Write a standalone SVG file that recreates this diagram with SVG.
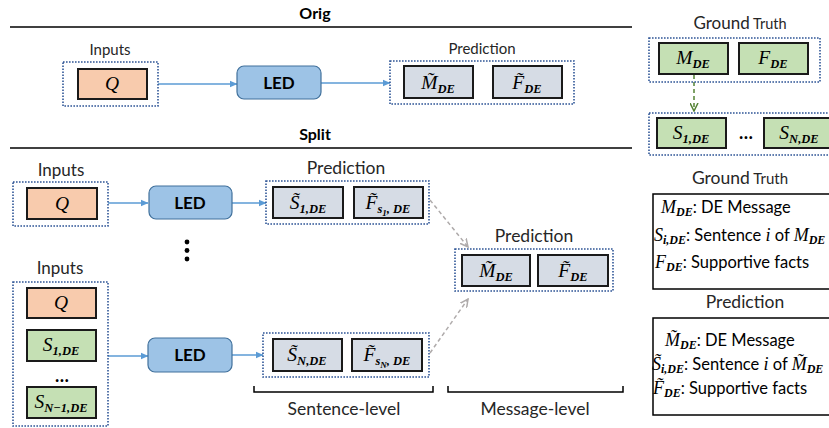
<svg xmlns="http://www.w3.org/2000/svg" width="829" height="428" viewBox="0 0 829 428">
  <style>
    .lbl { font-family: Lato, "Open Sans", "Liberation Sans", sans-serif; fill: #262626; text-anchor: middle; }
    .ttl { font-family: Lato, "Liberation Sans", sans-serif; font-weight: bold; font-size: 16px; fill: #000; text-anchor: middle; }
    .led-t { font-family: Lato, "Liberation Sans", sans-serif; font-weight: bold; font-size: 17px; fill: #000; text-anchor: middle; }
    .m { font-family: "Liberation Serif", "DejaVu Serif", serif; font-style: italic; font-size: 19.5px; fill: #000; }
    .mc { text-anchor: middle; }
    .s { font-size: 12.5px; font-weight: bold; }
    .ss { font-size: 9px; font-weight: bold; }
    .ell { font-family: Lato, "Liberation Sans", sans-serif; font-weight: bold; font-size: 18px; fill: #000; text-anchor: middle; }
    .grp { fill: none; stroke: #2F5597; stroke-width: 1.6; stroke-dasharray: 1.6 1.4; }
    .q { fill: #F8CBAD; stroke: #1a1a1a; stroke-width: 2; }
    .g { fill: #C5E0B4; stroke: #1a1a1a; stroke-width: 2; }
    .p { fill: #D6DCE5; stroke: #1a1a1a; stroke-width: 2; }
    .led { fill: #9DC3E6; stroke: #41719C; stroke-width: 1.2; }
    .rule { stroke: #000; stroke-width: 1.6; }
    .blue { stroke: #5B9BD5; stroke-width: 1.5; fill: none; marker-end: url(#ab); }
    .gray { stroke: #AFABAB; stroke-width: 1.5; fill: none; stroke-dasharray: 4 3; marker-end: url(#ag); }
    .green { stroke: #548235; stroke-width: 1.5; fill: none; stroke-dasharray: 4 3; marker-end: url(#agr); }
    .brk { stroke: #000; stroke-width: 1.5; fill: none; }
    .leg { fill: #fff; stroke: #000; stroke-width: 1.5; }
    .lt { font-family: Lato, "Open Sans", "Liberation Sans", sans-serif; font-size: 16.5px; fill: #000; }
    .lm { font-family: "Liberation Serif", "DejaVu Serif", serif; font-style: italic; font-size: 18px; }
    .ls { font-family: "Liberation Serif", "DejaVu Serif", serif; font-style: italic; font-weight: bold; font-size: 12px; }
  </style>
  <defs>
    <marker id="ab" markerWidth="8" markerHeight="8" refX="7" refY="4" orient="auto" markerUnits="userSpaceOnUse">
      <path d="M0,0.8 L7.5,4 L0,7.2 Z" fill="#5B9BD5"/>
    </marker>
    <marker id="ag" markerWidth="9" markerHeight="9" refX="8" refY="4.5" orient="auto" markerUnits="userSpaceOnUse">
      <path d="M0,0.5 L8,4.5 L0,8.5" fill="none" stroke="#AFABAB" stroke-width="1.5"/>
    </marker>
    <marker id="agr" markerWidth="9" markerHeight="9" refX="8" refY="4.5" orient="auto" markerUnits="userSpaceOnUse">
      <path d="M0,0.5 L8,4.5 L0,8.5" fill="none" stroke="#548235" stroke-width="1.5"/>
    </marker>
  </defs>

  <rect width="829" height="428" fill="#fff"/>

  <!-- section headings and rules -->
  <g id="headings">
    <text class="ttl" x="315" y="19">Orig</text>
    <line class="rule" x1="10" y1="27" x2="632" y2="27"/>
    <text class="ttl" x="315" y="140">Split</text>
    <line class="rule" x1="10" y1="148" x2="632" y2="148"/>
  </g>

  <!-- connectors -->
  <g id="connectors">
    <line class="blue" x1="158" y1="84" x2="237" y2="84"/>
    <line class="blue" x1="321" y1="83" x2="390" y2="83"/>
    <line class="blue" x1="108" y1="203" x2="148" y2="203"/>
    <line class="blue" x1="232" y1="203" x2="266" y2="203"/>
    <line class="blue" x1="108" y1="356" x2="148" y2="356"/>
    <line class="blue" x1="232" y1="355" x2="263" y2="355"/>
    <line class="gray" x1="430" y1="200" x2="468" y2="247"/>
    <line class="gray" x1="430" y1="353" x2="468" y2="299"/>
    <line class="green" x1="694" y1="75" x2="694" y2="111"/>
  </g>

  <!-- Orig: inputs -->
  <g id="orig-inputs">
    <text class="lbl" x="110" y="55" font-size="15">Inputs</text>
    <rect class="grp" x="63" y="62" width="95" height="44"/>
    <rect class="q" x="78" y="69" width="69" height="30"/>
    <text class="m mc" x="112" y="90">Q</text>
  </g>

  <g id="orig-led">
    <rect class="led" x="237" y="66" width="84" height="33" rx="7"/>
    <text class="led-t" x="279" y="88.5">LED</text>
  </g>

  <g id="orig-prediction">
    <text class="lbl" x="482" y="54" font-size="15">Prediction</text>
    <rect class="grp" x="390" y="61" width="184" height="43"/>
    <rect class="p" x="404" y="66" width="69" height="32"/>
    <text class="m mc" x="438" y="89">M&#771;<tspan class="s" dy="4">DE</tspan></text>
    <rect class="p" x="493" y="66" width="69" height="32"/>
    <text class="m mc" x="527" y="89">F&#771;<tspan class="s" dy="4">DE</tspan></text>
  </g>

  <!-- Ground truth, message and sentences -->
  <g id="gt-message">
    <text class="lbl" x="740" y="29"><tspan font-size="17">Ground</tspan><tspan font-size="14.5"> Truth</tspan></text>
    <rect class="grp" x="649" y="38" width="171" height="44"/>
    <rect class="g" x="659" y="43" width="69" height="31"/>
    <text class="m mc" x="693" y="64">M<tspan class="s" dy="4">DE</tspan></text>
    <rect class="g" x="739" y="43" width="69" height="31"/>
    <text class="m mc" x="773" y="64">F<tspan class="s" dy="4">DE</tspan></text>
  </g>

  <g id="gt-sentences">
    <rect class="grp" x="649" y="113" width="190" height="42"/>
    <rect class="g" x="657" y="118" width="69" height="30"/>
    <text class="m mc" x="691" y="139">S<tspan class="s" dy="4">1,DE</tspan></text>
    <text class="ell" x="746" y="139">…</text>
    <rect class="g" x="764" y="118" width="72" height="30"/>
    <text class="m mc" x="799" y="139">S<tspan class="s" dy="4">N,DE</tspan></text>
  </g>

  <!-- Split: first sentence -->
  <g id="split-inputs-1">
    <text class="lbl" x="61" y="176" font-size="17">Inputs</text>
    <rect class="grp" x="13" y="182" width="95" height="44"/>
    <rect class="q" x="27" y="188" width="70" height="31"/>
    <text class="m mc" x="62" y="210">Q</text>
  </g>

  <g id="split-led-1">
    <rect class="led" x="149" y="186" width="83" height="33" rx="7"/>
    <text class="led-t" x="190" y="208.5">LED</text>
  </g>

  <g id="split-prediction-1">
    <text class="lbl" x="346" y="174" font-size="17.5">Prediction</text>
    <rect class="grp" x="266" y="181" width="163" height="43"/>
    <rect class="p" x="273" y="187" width="70" height="31"/>
    <text class="m mc" x="308" y="209">S&#771;<tspan class="s" dy="4">1,DE</tspan></text>
    <rect class="p" x="354" y="187" width="69" height="31"/>
    <text class="m mc" x="388" y="209">F&#771;<tspan class="s" dy="4">s</tspan><tspan class="ss" dy="3">1</tspan><tspan class="s" dy="-3">, DE</tspan></text>
  </g>

  <g id="vdots" fill="#000">
    <circle cx="187" cy="242" r="2.4"/>
    <circle cx="187" cy="250.5" r="2.4"/>
    <circle cx="187" cy="259" r="2.4"/>
  </g>

  <!-- Split: last sentence -->
  <g id="split-inputs-n">
    <text class="lbl" x="60" y="274" font-size="17">Inputs</text>
    <rect class="grp" x="13" y="282" width="95" height="144"/>
    <rect class="q" x="27" y="288" width="69" height="30"/>
    <text class="m mc" x="61" y="309">Q</text>
    <rect class="g" x="27" y="330" width="69" height="31"/>
    <text class="m mc" x="61" y="351">S<tspan class="s" dy="4">1,DE</tspan></text>
    <text class="ell" x="62" y="382">…</text>
    <rect class="g" x="27" y="387" width="69" height="31"/>
    <text class="m mc" x="61" y="408">S<tspan class="s" dy="4">N−1,DE</tspan></text>
  </g>

  <g id="split-led-n">
    <rect class="led" x="148" y="338" width="84" height="34" rx="7"/>
    <text class="led-t" x="190" y="361">LED</text>
  </g>

  <g id="split-prediction-n">
    <rect class="grp" x="263" y="333" width="166" height="44"/>
    <rect class="p" x="273" y="339" width="69" height="32"/>
    <text class="m mc" x="307" y="361">S&#771;<tspan class="s" dy="4">N,DE</tspan></text>
    <rect class="p" x="352" y="339" width="70" height="32"/>
    <text class="m mc" x="387" y="361">F&#771;<tspan class="s" dy="4">s</tspan><tspan class="ss" dy="3">N</tspan><tspan class="s" dy="-3">, DE</tspan></text>
  </g>

  <!-- Split: merged message -->
  <g id="message-prediction">
    <text class="lbl" x="534" y="242" font-size="17.5">Prediction</text>
    <rect class="grp" x="455" y="249" width="158" height="42"/>
    <rect class="p" x="462" y="255" width="68" height="31"/>
    <text class="m mc" x="496" y="277">M&#771;<tspan class="s" dy="4">DE</tspan></text>
    <rect class="p" x="538" y="255" width="70" height="31"/>
    <text class="m mc" x="573" y="277">F&#771;<tspan class="s" dy="4">DE</tspan></text>
  </g>

  <!-- level brackets -->
  <g id="levels">
    <path class="brk" d="M254,386 V392 H433 V386"/>
    <text class="lbl" x="344" y="415" font-size="17.5">Sentence-level</text>
    <path class="brk" d="M448,386 V392 H623 V386"/>
    <text class="lbl" x="535" y="415" font-size="17.5">Message-level</text>
  </g>

  <!-- legends -->
  <g id="legend-gt">
    <text class="lbl" x="740" y="184"><tspan font-size="17.5">Ground</tspan><tspan font-size="15"> Truth</tspan></text>
    <rect class="leg" x="653" y="194" width="190" height="95"/>
    <text class="lt" x="661" y="213"><tspan class="lm">M</tspan><tspan class="ls" dy="3">DE</tspan><tspan dy="-3">: DE Message</tspan></text>
    <text class="lt" x="654" y="241"><tspan class="lm">S</tspan><tspan class="ls" dy="3">i,DE</tspan><tspan dy="-3">: Sentence </tspan><tspan class="lm">i</tspan><tspan> of </tspan><tspan class="lm">M</tspan><tspan class="ls" dy="3">DE</tspan></text>
    <text class="lt" x="655" y="268"><tspan class="lm">F</tspan><tspan class="ls" dy="3">DE</tspan><tspan dy="-3">: Supportive facts</tspan></text>
  </g>

  <g id="legend-pred">
    <text class="lbl" x="745" y="308" font-size="17.5">Prediction</text>
    <rect class="leg" x="653" y="318" width="190" height="97"/>
    <text class="lt" x="665" y="346"><tspan class="lm">M&#771;</tspan><tspan class="ls" dy="3">DE</tspan><tspan dy="-3">:  DE Message</tspan></text>
    <text class="lt" x="652" y="370"><tspan class="lm">S&#771;</tspan><tspan class="ls" dy="3">i,DE</tspan><tspan dy="-3">: Sentence </tspan><tspan class="lm">i</tspan><tspan> of </tspan><tspan class="lm">M&#771;</tspan><tspan class="ls" dy="3">DE</tspan></text>
    <text class="lt" x="653" y="394"><tspan class="lm">F&#771;</tspan><tspan class="ls" dy="3">DE</tspan><tspan dy="-3">:  Supportive facts</tspan></text>
  </g>
</svg>
